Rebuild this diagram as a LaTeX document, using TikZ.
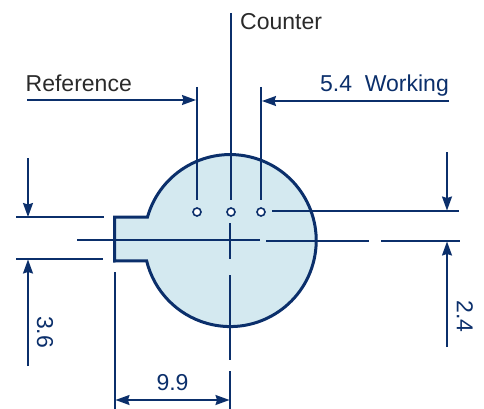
\documentclass[tikz,border=0pt]{standalone}
\usepackage{fontspec}
\setmainfont{Liberation Sans}
\usetikzlibrary{arrows.meta}
\definecolor{line_blue}{HTML}{0B2F6B}
\definecolor{disc_fill}{HTML}{D4E9F0}
\definecolor{text_grey}{HTML}{2A2A2A}
\begin{document}
\begin{tikzpicture}[x=1pt,y=-1pt]
        \tikzstyle{disc_style} = [draw=line_blue,fill=disc_fill,line width=3pt,line join=miter]
        \tikzstyle{hole_style} = [circle,draw=line_blue,fill=white,line width=1.6pt,inner sep=0pt,minimum size=8pt]
        \tikzstyle{edge_style} = [draw=line_blue,line width=1.5pt]
        \tikzstyle{arrow_style} = [edge_style,-{Stealth[length=14pt,width=10pt,inset=1.5pt]}]
        \tikzstyle{grey_label} = [text=text_grey,font=\fontsize{23}{27}\selectfont,inner sep=0pt]
        \tikzstyle{blue_label} = [text=line_blue,font=\fontsize{23}{27}\selectfont,inner sep=0pt]
        \useasboundingbox (0,0) rectangle (484,409);
        % outline
        \draw[disc_style] (147.5,217) arc[start angle=164.1,end angle=-166.3,radius=86pt]
          -- (114.5,261) -- (114.5,217) -- cycle;
        % holes
        \node[hole_style] (h1) at (197,212) {};
        \node[hole_style] (h2) at (231,212) {};
        \node[hole_style] (h3) at (261,212) {};
        % lines over the holes
        \coordinate (r1) at (197,87);
        \coordinate (c1) at (231,13);
        \coordinate (w1) at (261,87);
        \draw[edge_style] (r1) -- (197,200);
        \draw[edge_style] (c1) -- (231,200);
        \draw[edge_style] (w1) -- (261,200);
        % center lines
        \draw[edge_style] (77,240) -- (260,240);
        \draw[edge_style] (266,241) -- (369,241);
        \draw[edge_style] (381,241) -- (460,241);
        \draw[edge_style] (230,223) -- (230,259);
        \draw[edge_style] (230,275) -- (230,360);
        \draw[edge_style] (230,371) -- (230,409);
        % extension lines
        \draw[edge_style] (16,217) -- (104,217);
        \draw[edge_style] (16,259) -- (103,259);
        \draw[edge_style] (272,211) -- (459,211);
        \draw[edge_style] (115,272) -- (115,409);
        % arrows
        \coordinate (a1) at (27,100);
        \coordinate (a2) at (449,101);
        \draw[arrow_style] (a1) -- (196,100);
        \draw[arrow_style] (a2) -- (262,101);
        \draw[arrow_style] (28,158) -- (28,217);
        \draw[arrow_style] (28,366) -- (28,259.5);
        \draw[arrow_style] (447,152) -- (447,210.5);
        \draw[arrow_style] (447,347) -- (447,241.5);
        \draw[arrow_style] (172,400) -- (115.5,400);
        \draw[arrow_style] (172,400) -- (229.5,400);
        % labels
        \node[grey_label,anchor=base west] (ref_label) at (25.5,92) {Reference};
        \node[grey_label,anchor=base west] (cnt_label) at (240,30) {Counter};
        \node[blue_label,anchor=base east] (wrk_label) at (449,92) {5.4\ \ Working};
        \node[blue_label,anchor=base] (w_label) at (172.5,390) {9.9};
        \node[blue_label,rotate=-90,anchor=center] (l_label) at (45,332) {3.6};
        \node[blue_label,rotate=-90,anchor=center] (h_label) at (465,316.5) {2.4};
      \end{tikzpicture}
\end{document}
